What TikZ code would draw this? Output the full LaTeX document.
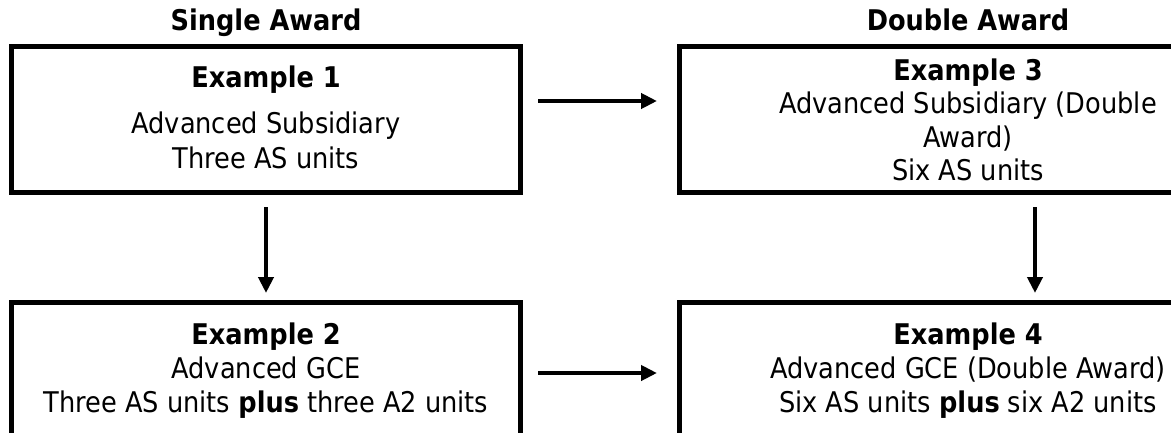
\documentclass[tikz,border=0pt]{standalone}
\usepackage{fontspec}
\setmainfont{DejaVu Sans Condensed}
\usetikzlibrary{arrows.meta}
\tikzset{
  frame/.style={draw=black, line width=5pt},
  flow/.style={draw=black, line width=4pt, -{Triangle[length=16pt,width=15pt]}},
  txt/.style={font=\fontsize{28.5}{34}\selectfont, anchor=base, inner sep=0pt},
  head/.style={font=\fontsize{28.5}{34}\selectfont\bfseries, anchor=base, inner sep=0pt},
}
\begin{document}
\begin{tikzpicture}[x=1pt,y=-1pt]
\useasboundingbox (0,0) rectangle (1171,432);
\clip (0,0) rectangle (1171,432);
% the four frames; the right-hand ones and the lower edges run past the page
\draw[frame] (11.5,46.5) rectangle (520.5,192.5);
\draw[frame] (679.5,46.5) rectangle (1258,192.5);
\draw[frame] (11.5,302.5) rectangle (520.5,470);
\draw[frame] (679.5,302.5) rectangle (1258,470);
% connector ends
\coordinate (b1e) at (538,101);
\coordinate (b3w) at (657,101);
\coordinate (b1s) at (266,207);
\coordinate (b2n) at (266,293);
\coordinate (b3s) at (1035,207);
\coordinate (b4n) at (1035,293);
\coordinate (b2e) at (538,373);
\coordinate (b4w) at (657,373);
\draw[flow] (b1e) -- (b3w);
\draw[flow] (b1s) -- (b2n);
\draw[flow] (b3s) -- (b4n);
\draw[flow] (b2e) -- (b4w);
% column headings
\node[head] (h1) at (266,30) {Single Award};
\node[head] (h2) at (968,30) {Double Award};
% Example 1
\node[head] (t1a) at (266,87) {Example 1};
\node[txt] (t1b) at (266,133) {Advanced Subsidiary};
\node[txt] (t1c) at (266,168) {Three AS units};
% Example 3
\node[head] (t3a) at (968,80) {Example 3};
\node[txt] (t3b) at (968,113.5) {Advanced Subsidiary (Double};
\node[txt] (t3c) at (968,147) {Award)};
\node[txt] (t3d) at (968,180.5) {Six AS units};
% Example 2
\node[head] (t2a) at (266,344) {Example 2};
\node[txt] (t2b) at (266,378) {Advanced GCE};
\node[txt] (t2c) at (266,412) {Three AS units \textbf{plus} three A2 units};
% Example 4
\node[head] (t4a) at (968,344) {Example 4};
\node[txt] (t4b) at (968,378) {Advanced GCE (Double Award)};
\node[txt] (t4c) at (968,412) {Six AS units \textbf{plus} six A2 units};
\end{tikzpicture}
\end{document}
